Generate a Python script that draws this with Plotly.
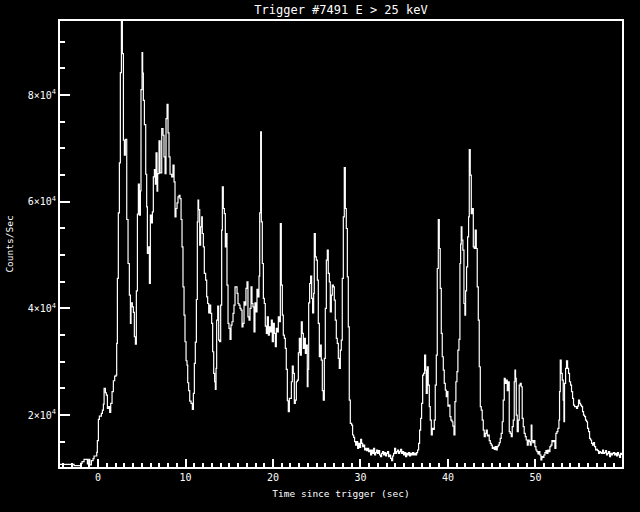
import plotly.graph_objects as go

# Time since trigger (s) and count rate (counts/s)
time_s = [
    -4.35, -2.74, -1.98, -1.83, -1.60, -1.33, -1.22, -1.07, -0.95, -0.76, -0.57, -0.46, -0.15, -0.08,
    0.04, 0.15, 0.38, 0.50, 0.61, 0.69, 0.84, 0.95, 1.07, 1.22, 1.33, 1.45, 1.60, 1.75, 1.90, 2.06,
    2.13, 2.21, 2.32, 2.44, 2.55, 2.67, 2.78, 2.90, 3.01, 3.12, 3.28, 3.43, 3.58, 3.70, 3.77, 3.92,
    4.04, 4.15, 4.27, 4.38, 4.50, 4.61, 4.72, 4.84, 4.91, 5.03, 5.10, 5.18, 5.30, 5.45, 5.56, 5.64,
    5.79, 5.87, 5.98, 6.10, 6.21, 6.32, 6.44, 6.55, 6.63, 6.74, 6.82, 6.97, 7.09, 7.28, 7.43, 7.54,
    7.66, 7.77, 7.89, 8.00, 8.11, 8.23, 8.42, 8.57, 8.69, 8.80, 8.91, 9.03, 9.14, 9.26, 9.37, 9.49,
    9.60, 9.71, 9.83, 9.94, 10.06, 10.17, 10.25, 10.36, 10.48, 10.63, 10.78, 10.90, 11.01, 11.12,
    11.24, 11.35, 11.43, 11.50, 11.62, 11.73, 11.85, 11.92, 12.04, 12.15, 12.30, 12.42, 12.53, 12.65,
    12.76, 12.88, 12.99, 13.10, 13.22, 13.33, 13.41, 13.49, 13.56, 13.68, 13.79, 13.90, 14.02, 14.13,
    14.21, 14.32, 14.44, 14.55, 14.63, 14.74, 14.86, 14.97, 15.09, 15.20, 15.31, 15.43, 15.54, 15.66,
    15.89, 16.00, 16.11, 16.23, 16.34, 16.46, 16.57, 16.69, 16.80, 16.91, 17.03, 17.14, 17.26, 17.37,
    17.49, 17.60, 17.71, 17.83, 17.94, 18.06, 18.17, 18.29, 18.40, 18.48, 18.59, 18.67, 18.78, 18.90,
    19.01, 19.12, 19.24, 19.35, 19.47, 19.58, 19.70, 19.81, 19.92, 20.04, 20.15, 20.27, 20.38, 20.50,
    20.61, 20.72, 20.84, 20.95, 21.07, 21.18, 21.30, 21.41, 21.52, 21.64, 21.75, 21.87, 22.10, 22.21,
    22.32, 22.44, 22.55, 22.67, 22.78, 22.90, 23.01, 23.12, 23.24, 23.35, 23.47, 23.58, 23.70, 23.81,
    23.92, 24.00, 24.08, 24.19, 24.30, 24.42, 24.53, 24.65, 24.72, 24.84, 24.95, 25.07, 25.18, 25.30,
    25.41, 25.52, 25.64, 25.75, 25.87, 25.98, 26.10, 26.21, 26.32, 26.44, 26.55, 26.67, 26.78, 26.90,
    27.01, 27.12, 27.24, 27.35, 27.47, 27.58, 27.70, 27.81, 27.92, 28.04, 28.15, 28.27, 28.38, 28.50,
    28.61, 28.72, 28.84, 28.99, 29.10, 29.22, 29.33, 29.45, 29.56, 29.68, 29.79, 29.90, 30.02, 30.13,
    30.25, 30.36, 30.48, 30.59, 30.71, 30.82, 30.93, 31.05, 31.16, 31.28, 31.39, 31.50, 31.62, 31.73,
    31.85, 31.96, 32.08, 32.19, 32.30, 32.42, 32.53, 32.65, 32.76, 32.88, 32.99, 33.10, 33.22, 33.33,
    33.45, 33.56, 33.68, 33.79, 33.90, 34.02, 34.13, 34.25, 34.36, 34.48, 34.59, 34.71, 34.82, 34.93,
    35.05, 35.16, 35.28, 35.39, 35.51, 35.62, 35.73, 35.85, 35.96, 36.08, 36.19, 36.31, 36.42, 36.53,
    36.65, 36.76, 36.88, 36.99, 37.11, 37.22, 37.33, 37.45, 37.52, 37.64, 37.75, 37.87, 37.98, 38.10,
    38.21, 38.32, 38.44, 38.55, 38.67, 38.78, 38.90, 39.01, 39.12, 39.24, 39.35, 39.47, 39.58, 39.70,
    39.81, 39.89, 40.00, 40.11, 40.23, 40.34, 40.46, 40.57, 40.69, 40.80, 40.91, 41.03, 41.14, 41.26,
    41.37, 41.45, 41.52, 41.60, 41.71, 41.83, 41.94, 42.02, 42.13, 42.25, 42.36, 42.44, 42.55, 42.67,
    42.78, 42.90, 43.01, 43.12, 43.24, 43.35, 43.47, 43.58, 43.70, 43.81, 43.92, 44.04, 44.15, 44.27,
    44.38, 44.50, 44.61, 44.72, 44.84, 44.95, 45.07, 45.18, 45.30, 45.41, 45.52, 45.64, 45.75, 45.87,
    45.98, 46.09, 46.21, 46.32, 46.44, 46.55, 46.67, 46.78, 46.89, 47.01, 47.12, 47.24, 47.35, 47.47,
    47.58, 47.66, 47.73, 47.81, 47.92, 48.04, 48.15, 48.27, 48.38, 48.49, 48.61, 48.72, 48.84, 48.95,
    49.07, 49.18, 49.30, 49.41, 49.52, 49.60, 49.71, 49.83, 49.94, 50.06, 50.17, 50.29, 50.40, 50.51,
    50.63, 50.74, 50.86, 50.97, 51.09, 51.20, 51.31, 51.43, 51.54, 51.66, 51.77, 51.89, 52.00, 52.11,
    52.23, 52.34, 52.46, 52.57, 52.69, 52.76, 52.84, 52.95, 53.07, 53.18, 53.26, 53.33, 53.45, 53.56,
    53.68, 53.79, 53.90, 54.02, 54.13, 54.25, 54.36, 54.48, 54.59, 54.70, 54.82, 54.93, 55.05, 55.16,
    55.28, 55.39, 55.50, 55.62, 55.73, 55.85, 55.96, 56.08, 56.19, 56.30, 56.42, 56.53, 56.65, 56.76,
    56.88, 56.99, 57.10, 57.22, 57.33, 57.45, 57.56, 57.68, 57.79, 57.90, 58.02, 58.13, 58.25, 58.36,
    58.48, 58.59, 58.70, 58.82, 58.93, 59.05, 59.16, 59.28, 59.39, 59.50, 59.62, 59.73, 59.85,
]

counts_per_sec = [
    10750, 10500, 10940, 11250, 11690, 11690, 10810, 11690, 10630, 11440, 11810, 12310, 13000, 15180,
    19180, 19810, 20310, 20930, 22060, 24990, 24180, 23740, 21250, 21560, 20500, 22180, 24370, 26430, 27300, 27490,
    33430, 45610, 57920, 67290, 84210, 93800, 87780, 71530, 68720, 71720, 56670, 48420, 42490, 37170, 41050, 40300,
    39240, 34680, 33300, 43300, 57660, 63290, 57480, 62040, 81030, 87970, 84150, 79030, 74470, 65160, 59040, 50290,
    51540, 44670, 57480, 56040, 58100, 64660, 66040, 63290, 69160, 62000, 65290, 71410, 65410, 73720, 72470, 68410,
    65290, 75590, 78280, 72910, 68410, 65160, 64660, 66850, 63720, 57170, 58730, 59790, 60910, 61220, 60600, 56670,
    51540, 44050, 38740, 33740, 30180, 29370, 26050, 24560, 22620, 22180, 21060, 24060, 29680, 33680,
    41670, 56230, 60290, 58540, 51860, 55290, 57170, 54040, 51540, 46550, 45300, 42170, 40920, 39170,
    40610, 39050, 37170, 31870, 27800, 26240, 24810, 28740, 37800, 40420, 34050, 33740, 40610, 54670,
    62790, 58730, 57790, 51540, 54040, 44360, 37170, 36240, 34180, 36860, 37490, 39050, 40610, 44050,
    42800, 40920, 40610, 39990, 39680, 36550, 37170, 41240, 40610, 43740, 44980, 38420, 37800, 39990,
    44050, 40920, 40300, 35610, 41050, 39360, 43550, 42170, 46050, 57920, 73100, 56230, 48420, 41860,
    40920, 36680, 35300, 38420, 34990, 36550, 35610, 37800, 33740, 37170, 35300, 32800, 36240, 35610,
    38420, 37490, 55920, 44360, 38740, 34990, 34360, 32490, 28550, 22680, 20620, 23120, 26240, 29180,
    27800, 22180, 22810, 26240, 26550, 31680, 34360, 31240, 37490, 35300, 32490, 34360, 31550, 33120,
    25300, 28550, 41050, 44670, 46050, 41860, 39170, 42800, 54040, 49670, 49040, 45300, 37170, 30930,
    33120, 30300, 24560, 22810, 30620, 39990, 49040, 50920, 46550, 44980, 39360, 42490, 44360, 44050,
    41550, 37800, 34360, 33430, 30620, 28740, 32180, 34050, 45610, 57170, 66410, 58730, 54980, 45920,
    36550, 22810, 18440, 18120, 16250, 15810, 15000, 14370, 15000, 13750, 14690, 13940, 15440, 14690,
    14060, 14370, 13440, 13750, 13310, 13750, 13120, 13440, 12500, 13440, 12810, 13750, 12500, 12940,
    13440, 12810, 13310, 12500, 12190, 12810, 13120, 12500, 12940, 12310, 12810, 13120, 12190, 12500,
    11870, 11440, 12310, 12810, 13750, 12810, 13120, 13440, 12810, 13120, 13560, 12810, 13120, 12500,
    12940, 12190, 12810, 12500, 12940, 12310, 12810, 12500, 12940, 12500, 12810, 12500, 12940, 13440,
    14690, 17180, 19370, 22180, 27490, 27800, 31240, 28430, 24060, 29050, 25620, 21560, 19060, 16250,
    17500, 17310, 19060, 25620, 31240, 47480, 56670, 51230, 43740, 35300, 30930, 28430, 25930, 24680,
    23430, 24370, 21680, 21870, 19680, 19060, 18740, 17930, 16250, 22500, 26240, 28120, 32180, 34180,
    48420, 52040, 55290, 52790, 50920, 40920, 38740, 43300, 47800, 53420, 57170, 69780, 64980, 57790,
    58730, 51540, 51230, 54670, 51230, 44050, 37800, 29050, 21560, 20930, 19060, 17180, 15930, 16560,
    17180, 16060, 16250, 15190, 14690, 14370, 13750, 13940, 13560, 14060, 13440, 14060, 14370, 14810,
    15620, 16560, 18740, 22810, 26870, 25930, 26550, 24560, 26240, 16870, 16560, 15930, 17810, 19060,
    26240, 28430, 26870, 19990, 16870, 19060, 25620, 25930, 25300, 19370, 17810, 16560, 15930, 15310,
    14370, 15310, 15000, 14370, 18120, 15190, 14810, 15190, 14060, 13440, 13120, 12690, 13120, 12500,
    11560, 12190, 12060, 12500, 12940, 13310, 12810, 13440, 13120, 14060, 14370, 15190, 15000, 15190,
    13750, 16560, 16870, 17500, 19060, 24370, 30300, 27800, 26550, 22810, 18740, 25930, 28740, 30180,
    28740, 27800, 26240, 25620, 24370, 23120, 21870, 21560, 21560, 21250, 21680, 22810, 22180, 21870,
    21560, 20620, 19990, 19680, 19060, 18740, 17500, 16870, 15620, 15310, 14690, 14370, 14810, 14060,
    13440, 13560, 13310, 12810, 13120, 12940, 12810, 13440, 12810, 12940, 13310, 12500, 12810, 13120,
    12190, 12810, 12500, 12810, 12940, 12500, 12810, 12310, 12940, 12500, 12060, 12810, 12500,
]

x_range = [-4.35, 59.9]
y_range = [10250, 93900]

y_tick_vals = [20000, 40000, 60000, 80000]
y_tick_text = ["2\u00d710<sup>4</sup>", "4\u00d710<sup>4</sup>", "6\u00d710<sup>4</sup>", "8\u00d710<sup>4</sup>"]
y_minor_vals = [15000, 25000, 30000, 35000, 45000, 50000, 55000, 65000, 70000, 75000, 85000, 90000]
x_major_step = 10
x_minor_step = 1

font_family = "DejaVu Sans Mono"
lw = 2

fig = go.Figure()
fig.add_trace(go.Scatter(
    x=time_s, y=counts_per_sec, mode="lines",
    line=dict(color="#FFFFFF", width=1.2, shape="hv"),
    showlegend=False, hoverinfo="skip",
))
# invisible copy bound to the overlay y axis that carries the minor y ticks
fig.add_trace(go.Scatter(
    x=time_s, y=counts_per_sec, mode="lines", xaxis="x", yaxis="y2",
    line=dict(color="rgba(0,0,0,0)", width=0),
    showlegend=False, hoverinfo="skip",
))

fig.update_layout(
    width=640, height=512,
    paper_bgcolor="#000000", plot_bgcolor="#000000",
    margin=dict(l=60, r=18, t=21, b=45, autoexpand=False),
    title=dict(text="Trigger #7491 E > 25 keV", x=341 / 640, xanchor="center",
               y=1 - 10 / 512, yanchor="middle", yref="container",
               font=dict(family=font_family, size=12, color="#FFFFFF")),
    font=dict(family=font_family, color="#FFFFFF"),
    xaxis=dict(
        range=x_range, showgrid=False, zeroline=False,
        showline=True, linecolor="#FFFFFF", linewidth=lw, mirror=True,
        tickmode="linear", tick0=0, dtick=x_major_step,
        ticks="inside", ticklen=8, tickcolor="#FFFFFF", tickwidth=lw,
        minor=dict(ticks="inside", ticklen=4, tick0=0, dtick=x_minor_step,
                   tickcolor="#FFFFFF", tickwidth=lw, showgrid=False),
        tickfont=dict(family=font_family, size=10, color="#FFFFFF"),
        title=dict(text="Time since trigger (sec)", standoff=8,
                   font=dict(family=font_family, size=9.5, color="#FFFFFF")),
    ),
    yaxis=dict(
        range=y_range, showgrid=False, zeroline=False, automargin=False,
        showline=True, linecolor="#FFFFFF", linewidth=lw, mirror=True,
        tickmode="array", tickvals=y_tick_vals, ticktext=y_tick_text,
        ticks="inside", ticklen=10, tickcolor="#FFFFFF", tickwidth=lw,
        tickfont=dict(family=font_family, size=10, color="#FFFFFF"),
        title=dict(text="Counts/Sec", standoff=12,
                   font=dict(family=font_family, size=9.5, color="#FFFFFF")),
    ),
    yaxis2=dict(
        range=y_range, overlaying="y", side="left", showgrid=False, zeroline=False,
        automargin=False, showline=False,
        tickmode="array", tickvals=y_minor_vals, showticklabels=False,
        ticks="inside", ticklen=5, tickcolor="#FFFFFF", tickwidth=lw,
    ),
)

fig.write_html(
    "out.html",
    config={"displayModeBar": False},
    post_script="document.body.style.margin='0';document.body.style.background='black';",
)
